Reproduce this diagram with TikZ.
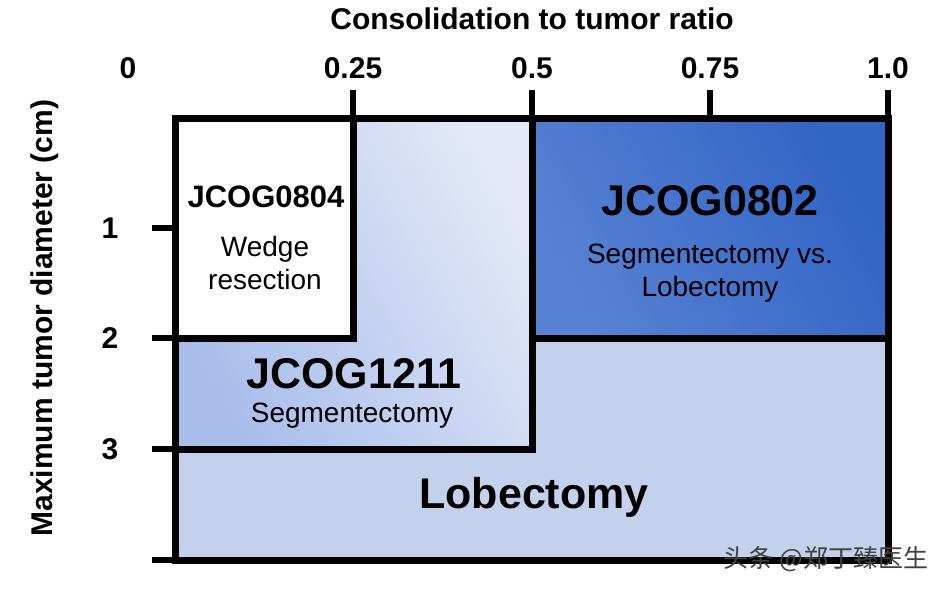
\documentclass[tikz,border=0pt]{standalone}
\usepackage{fontspec}
\setmainfont{Liberation Sans}
\newfontfamily\cjk{Noto Sans CJK SC}
\definecolor{dk}{HTML}{3A6CCB}
\definecolor{dk2}{HTML}{3264C6}
\definecolor{lb}{HTML}{C3D1EC}
\definecolor{lb1}{HTML}{A9BDEB}
\definecolor{lb2}{HTML}{E2E8F7}
\tikzset{ln/.style={line width=7pt,line join=miter,line cap=rect},
 tk/.style={line width=6pt},
 lab/.style={font=\bfseries\fontsize{30}{32}\selectfont},
 big/.style={font=\bfseries\fontsize{43}{45}\selectfont},
 sm/.style={font=\fontsize{28}{33}\selectfont,align=center}}
\begin{document}
\begin{tikzpicture}[x=1pt,y=-1pt]
\useasboundingbox (0,0) rectangle (942,589);
\fill[white] (0,0) rectangle (942,589);
\fill[lb] (175,118) rectangle (888,560);
\shade[left color=lb1,right color=lb2,shading angle=120] (175,118) rectangle (532,449);
\fill[white] (175,118) rectangle (353,338);
\shade[left color=dk!85!white,right color=dk2,shading angle=120] (532,118) rectangle (888,338);
\draw[ln] (175,118) rectangle (888,560);
\draw[ln] (353,118) -- (353,338) -- (175,338);
\draw[ln] (532,118) -- (532,449) -- (175,449);
\draw[ln] (532,338) -- (888,338);
\foreach \x in {353,532,710,888} \draw[tk] (\x,90) -- (\x,118);
\foreach \y in {228,338,449,560} \draw[tk] (152,\y) -- (175,\y);
\node[lab] (t0) at (128,68) {0};
\node[lab] (t1) at (353,68) {0.25};
\node[lab] (t2) at (532,68) {0.5};
\node[lab] (t3) at (710,68) {0.75};
\node[lab] (t4) at (888,68) {1.0};
\node[lab] (y1) at (110,228) {1};
\node[lab] (y2) at (110,338) {2};
\node[lab] (y3) at (110,449) {3};
\node[lab] (xt) at (532,19) {Consolidation to tumor ratio};
\node[lab,rotate=90] (yt) at (45,318) {Maximum tumor diameter (cm)};
\node[font=\bfseries\fontsize{31}{33}\selectfont] (a) at (266,197) {JCOG0804};
\node[sm] (a2) at (265,263) {Wedge\\resection};
\node[big] (b) at (710,201) {JCOG0802};
\node[sm] (b2) at (710,273) {Segmentectomy vs.\\Lobectomy};
\node[big] (c) at (354,374) {JCOG1211};
\node[sm] (c2) at (352,416) {Segmentectomy};
\node[big] (d) at (534,497) {Lobectomy};
\node[font=\cjk\fontsize{25}{27}\selectfont,text=black!75] (w) at (826,559) {头条 @郑丁臻医生};
\end{tikzpicture}
\end{document}
